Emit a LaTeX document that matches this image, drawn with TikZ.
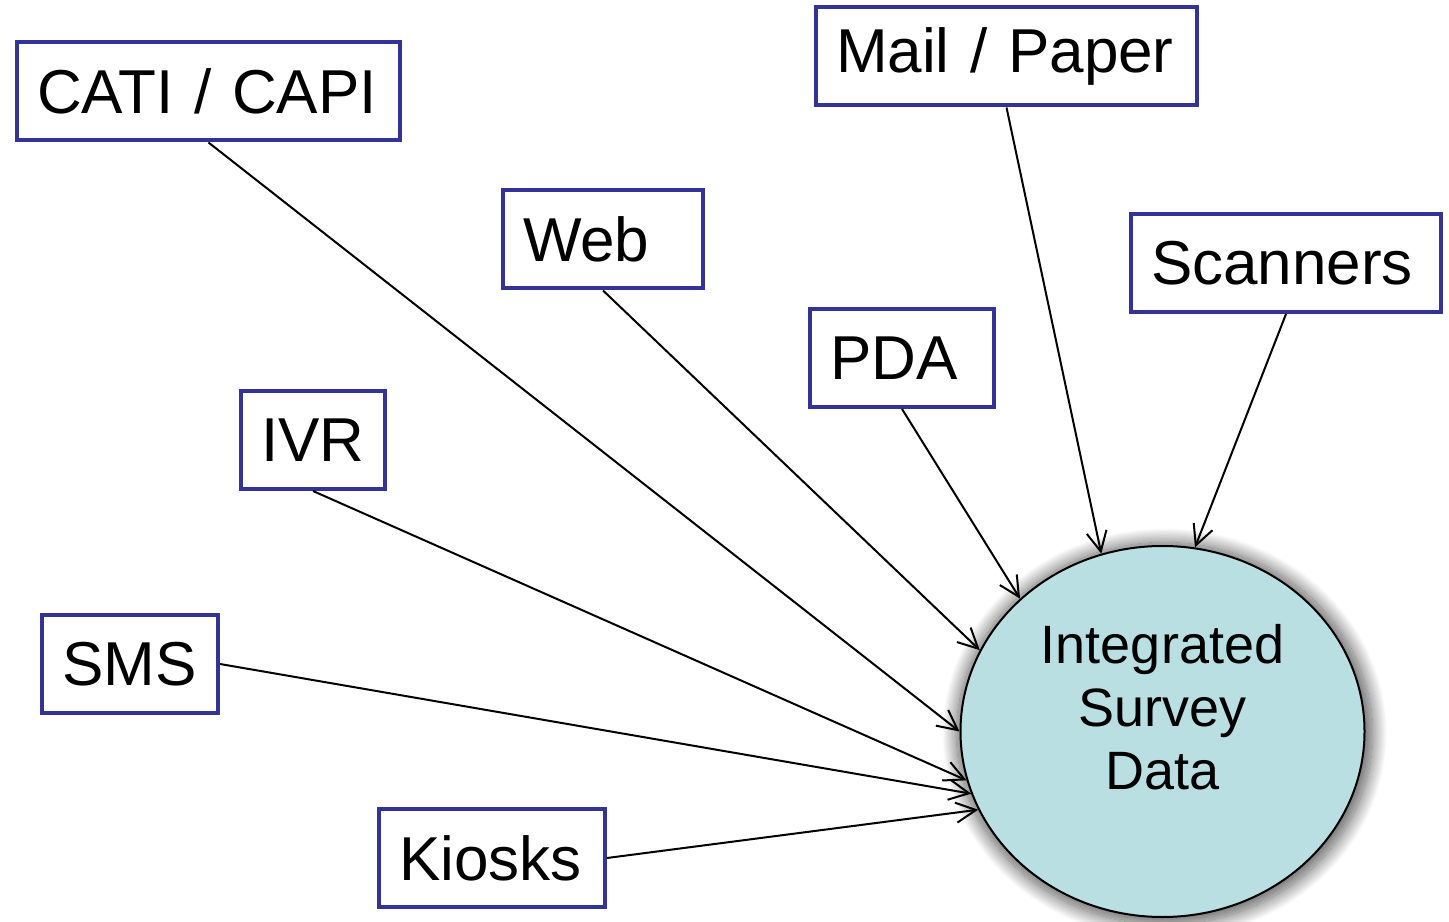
\documentclass[tikz,border=0pt]{standalone}
\usepackage{fontspec}
\setmainfont{Liberation Sans}
\usetikzlibrary{shapes.geometric,arrows.meta,shadows.blur}
\definecolor{boxblue}{RGB}{51,51,153}
\definecolor{hubfill}{RGB}{185,223,227}
\begin{document}
\begin{tikzpicture}[x=0.5pt, y=0.5pt,
        src/.style ={draw=boxblue, line width=2pt, fill=white, minimum height=49pt, inner xsep=10pt, align=left, font=\fontsize{31}{36}\selectfont},
        hub/.style ={draw, ellipse, line width=1pt, fill=hubfill, minimum width=202pt, minimum height=185.5pt, inner sep=0pt, align=center, text depth=25pt, font=\fontsize{27}{31.5}\selectfont, blur shadow={shadow xshift=1pt, shadow yshift=-1pt, shadow scale=1.03, shadow blur radius=7pt, shadow blur steps=25, shadow opacity=65}},
        feed/.style ={line width=1pt, -{Straight Barb[length=10pt,width=10pt]}}]
        \useasboundingbox (0,0) rectangle (1449,921);
        \node[hub] (isd) at (1162.5,189.5) {Integrated\\Survey\\Data};
        \node[src, text width=171.5pt] (cati) at (208.5,829.5) {CATI / CAPI};
        \node[src, text width=170.5pt] (mail) at (1006.5,864.5) {Mail / Paper};
        \node[src, text width=80pt] (web) at (603,681.5) {Web};
        \node[src, text width=135pt] (scan) at (1286,658) {Scanners};
        \node[src, text width=72pt] (pda) at (902,563) {PDA};
        \node[src, text width=52pt] (ivr) at (313,481) {IVR};
        \node[src, text width=68pt] (sms) at (130,257) {SMS};
        \node[src, text width=93pt] (kiosk) at (492,63) {Kiosks};
        \draw[feed] (cati.south) -- (isd.180);
        \draw[feed] (web.south) -- (isd.156);
        \draw[feed] (pda.south) -- (isd.137);
        \draw[feed] (mail.south) -- (isd.109.5);
        \draw[feed] (scan.south) -- (isd.80);
        \draw[feed] (ivr.south) -- (isd.194.5);
        \draw[feed] (sms.east) -- (isd.198);
        \draw[feed] (kiosk.east) -- (isd.203);
    \end{tikzpicture}
\end{document}
